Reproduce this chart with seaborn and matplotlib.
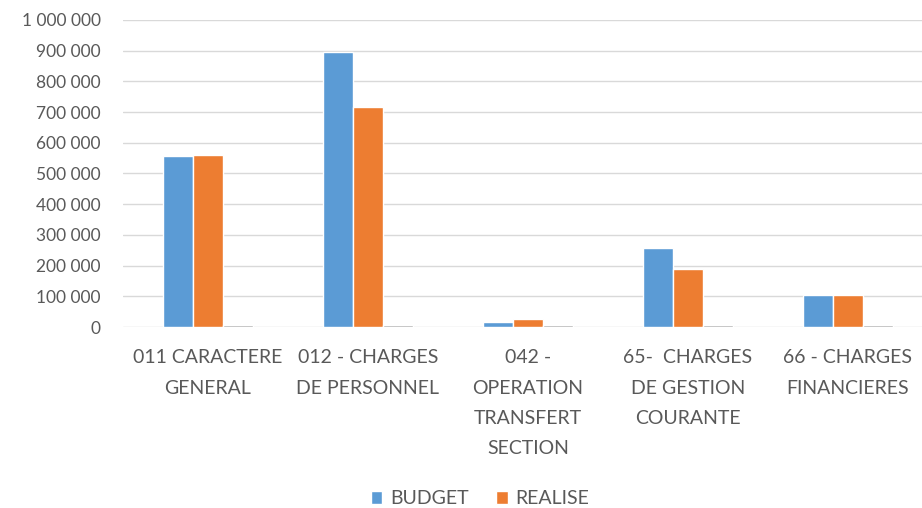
import pandas as pd
import numpy as np
import matplotlib
matplotlib.use('Agg')
import matplotlib.pyplot as plt
from matplotlib.patches import Patch
from matplotlib.ticker import FuncFormatter
import seaborn as sns

# --- DATA ---
categories = ['011 CARACTERE\nGENERAL',
              '012 - CHARGES\nDE PERSONNEL',
              '042 -\nOPERATION\nTRANSFERT\nSECTION',
              '65-  CHARGES\nDE GESTION\nCOURANTE',
              '66 - CHARGES\nFINANCIERES']
budget = [557000, 896000, 15000, 256000, 104000]
realise = [560000, 718000, 25000, 188000, 104000]
ecart = [5000, 5000, 5000, 5000, 5000]  # small grey series (not in legend)
series = ['BUDGET', 'REALISE', 'ECART']
colors = ['#5B9BD5', '#ED7D31', '#A5A5A5']

df = pd.DataFrame({
    'cat': categories * 3,
    'val': budget + realise + ecart,
    'serie': [s for s in series for _ in categories],
})

sns.set_style('white')
plt.rcParams['font.family'] = ['Lato', 'DejaVu Sans']

fig = plt.figure(figsize=(9.22, 5.08), dpi=100)
ax = fig.add_axes([123 / 922, (508 - 327) / 508, 799 / 922, 307 / 508])

sns.barplot(data=df, x='cat', y='val', hue='serie', hue_order=series,
            palette=colors, width=0.5625, saturation=1, errorbar=None,
            legend=False, ax=ax, zorder=3)

ax.set_xlim(-0.531, 4.4625)
ax.set_ylim(0, 1000000)
ax.set_yticks(np.arange(0, 1000001, 100000))
ax.yaxis.set_major_formatter(FuncFormatter(lambda v, p: f'{int(v):,}'.replace(',', ' ')))
ax.grid(axis='y', color='#d9d9d9', linewidth=1, zorder=0)
ax.set_axisbelow(True)
for s in ax.spines.values():
    s.set_visible(False)
ax.set_xlabel('')
ax.set_ylabel('')
ax.tick_params(axis='y', length=0, pad=16, labelsize=12.5, labelcolor='#595959')
ax.tick_params(axis='x', length=0, pad=16, labelsize=14, labelcolor='#595959')
for lbl in ax.get_xticklabels():
    lbl.set_linespacing(1.95)
    lbl.set_multialignment('center')

handles = [Patch(facecolor=colors[0], label='BUDGET'),
           Patch(facecolor=colors[1], label='REALISE')]
fig.legend(handles=handles, loc='center', bbox_to_anchor=(480 / 922, 1 - 499 / 508),
           ncol=2, frameon=False, fontsize=14, handlelength=0.6, handleheight=0.6,
           handletextpad=0.4, columnspacing=1.4, labelcolor='#595959')

plt.savefig('out.png', dpi=100)
